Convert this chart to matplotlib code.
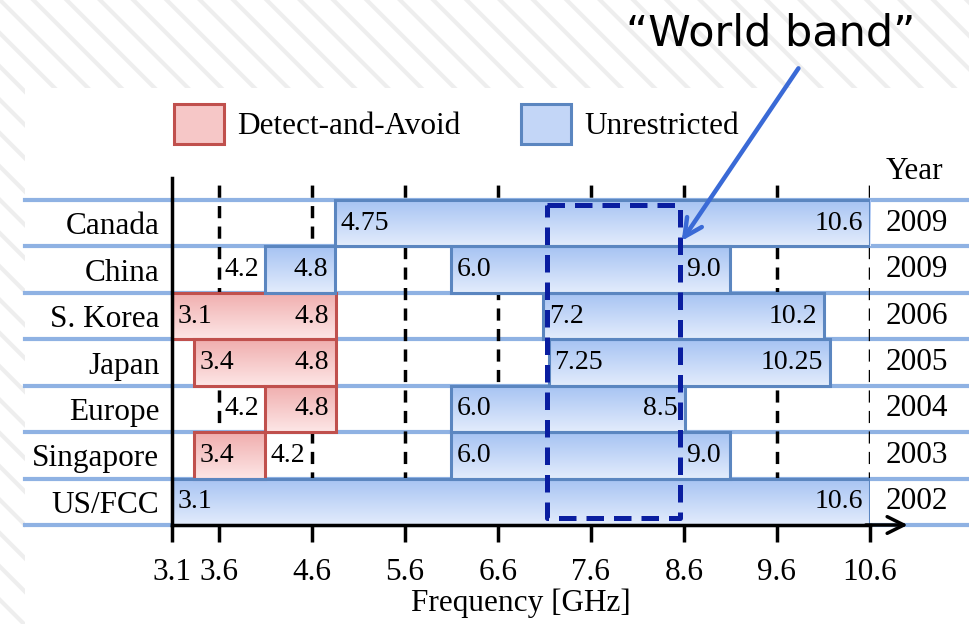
import numpy as np
import matplotlib
matplotlib.use("Agg")
import matplotlib.pyplot as plt
from matplotlib.patches import Rectangle, Patch
from matplotlib.colors import LinearSegmentedColormap
from matplotlib.transforms import blended_transform_factory

# ---------------------------------------------------------------- data
countries = ["Canada", "China", "S. Korea", "Japan", "Europe", "Singapore", "US/FCC"]
years = ["2009", "2009", "2006", "2005", "2004", "2003", "2002"]
ticks = [3.1, 3.6, 4.6, 5.6, 6.6, 7.6, 8.6, 9.6, 10.6]

# bands as drawn: (row, start GHz, end GHz)
daa_bands = [(2, 3.1, 4.86), (3, 3.34, 4.86), (4, 4.10, 4.86), (5, 3.34, 4.10)]
unr_bands = [(0, 4.85, 10.6), (1, 4.10, 4.85), (1, 6.10, 9.10), (2, 7.09, 10.11),
             (3, 7.15, 10.17), (4, 6.10, 8.61), (5, 6.10, 9.10), (6, 3.1, 10.6)]

# edge labels: (row, anchor GHz, text, side)
labels = [(0, 4.85, "4.75", "l"), (0, 10.6, "10.6", "r"),
          (1, 3.6, "4.2", "l"), (1, 4.85, "4.8", "r"), (1, 6.10, "6.0", "l"), (1, 8.56, "9.0", "l"),
          (2, 3.1, "3.1", "l"), (2, 4.86, "4.8", "r"), (2, 7.09, "7.2", "l"), (2, 10.11, "10.2", "r"),
          (3, 3.34, "3.4", "l"), (3, 4.86, "4.8", "r"), (3, 7.15, "7.25", "l"), (3, 10.17, "10.25", "r"),
          (4, 3.6, "4.2", "l"), (4, 4.86, "4.8", "r"), (4, 6.10, "6.0", "l"), (4, 8.61, "8.5", "r"),
          (5, 3.34, "3.4", "l"), (5, 4.10, "4.2", "l"), (5, 6.10, "6.0", "l"), (5, 8.56, "9.0", "l"),
          (6, 3.1, "3.1", "l"), (6, 10.6, "10.6", "r")]

world_band = (7.13, 8.56)

RED_EDGE = "#c0504d"; BLUE_EDGE = "#5b86c0"; SEP = "#8fb2e3"
RED_GRAD = ("#f0aeae", "#fde6e6"); BLUE_GRAD = ("#a6c3f3", "#e3ecfc")
plt.rcParams.update({"font.family": ["Liberation Serif", "DejaVu Serif"], "hatch.linewidth": 3.0,
                     "hatch.color": "#eeeeee"})
FS = 22.5

fig = plt.figure(figsize=(9.7, 6.24), dpi=100)

# hatched slide background + white chart panel
fig.patches.append(Rectangle((0, 0), 1, 1, transform=fig.transFigure, facecolor="white",
                             edgecolor="#eeeeee", hatch="\\", lw=0, zorder=-10))
fig.patches.append(Rectangle((25/970, 0), 1, 1 - 88/624, transform=fig.transFigure,
                             facecolor="white", lw=0, zorder=-9))

ax = fig.add_axes([172/970, 1 - 525/624, 698/970, 347/624])
ax.patch.set_alpha(0)

# dashed frequency grid
for t in ticks[1:]:
    ax.plot([t, t], [6.5, -0.974], color="black", lw=2.5, ls=(0, (3.5, 2.4)), zorder=1)

# row separators running past the axes
trans = blended_transform_factory(ax.transAxes, ax.transData)
for yb in np.arange(-0.5, 7.0, 1.0):
    ax.plot([-147/698, 798/698], [yb, yb], color=SEP, lw=3, transform=trans, clip_on=False, zorder=0)

grad = np.linspace(0, 1, 64).reshape(-1, 1)

def draw_band(row, x0, x1, cols, edge):
    cmap = LinearSegmentedColormap.from_list("g", cols)
    rect = Rectangle((x0, row - 0.5), x1 - x0, 1.0, facecolor="none", edgecolor=edge, lw=2.2, zorder=4)
    ax.add_patch(rect)
    im = ax.imshow(grad, cmap=cmap, aspect="auto", extent=(x0, x1, row + 0.5, row - 0.5), zorder=3)
    im.set_clip_path(rect)

for r, a, b in daa_bands:
    draw_band(r, a, b, RED_GRAD, RED_EDGE)
for r, a, b in unr_bands:
    draw_band(r, a, b, BLUE_GRAD, BLUE_EDGE)
ax.set_xlim(3.1, 10.6)
ax.set_ylim(6.5, -0.974)

for r, x, txt, side in labels:
    dx = 4 if side == "l" else -5
    ax.annotate(txt, (x, r), xytext=(dx, 0), textcoords="offset points", ha="left" if side == "l" else "right",
                va="center", fontsize=20, zorder=6)

# world band box
wb = Rectangle((world_band[0], -0.392), world_band[1] - world_band[0], 6.741, facecolor="none",
               edgecolor="#0a1ea0", lw=3.6, ls=(0, (3.5, 2)), joinstyle="round", zorder=7)
ax.add_patch(wb)

# axes styling
for s in ("top", "right"):
    ax.spines[s].set_visible(False)
for s in ("left", "bottom"):
    ax.spines[s].set_linewidth(2.5)
    ax.spines[s].set_zorder(8)
ax.set_xticks(ticks)
ax.set_xticklabels([f"{t:.1f}" for t in ticks], fontsize=FS)
ax.tick_params(axis="x", length=12, width=2.5, pad=12)
ax.set_yticks(range(len(countries)))
ax.set_yticklabels(countries, fontsize=FS)
ax.tick_params(axis="y", length=0, pad=9)
ax.set_xlabel("Frequency [GHz]", fontsize=FS, labelpad=1)
ax.annotate("", xy=(1.058, 0), xytext=(0.99, 0), xycoords="axes fraction",
            arrowprops=dict(arrowstyle="->", lw=2.5, mutation_scale=30, color="black"), zorder=9)

# year column
ax.text(1.022, -1.12, "Year", transform=trans, fontsize=FS, va="center", ha="left")
for i, y in enumerate(years):
    ax.text(1.022, i, y, transform=trans, fontsize=FS, va="center", ha="left")

# legend
handles = [Patch(facecolor="#f6c7c7", edgecolor=RED_EDGE, lw=2.2, label="Detect-and-Avoid"),
           Patch(facecolor="#c3d6f7", edgecolor=BLUE_EDGE, lw=2.2, label="Unrestricted")]
fig.legend(handles=handles, loc="center left", bbox_to_anchor=(146/970, 1 - 124/624), ncol=2,
           frameon=False, fontsize=FS, handlelength=1.6, handleheight=1.6, columnspacing=1.95,
           handletextpad=0.42)

# "World band" callout
fig.text(771/970, 1 - 33/624, "\u201cWorld band\u201d", fontsize=31, family="DejaVu Sans",
         ha="center", va="center")
ax.annotate("", xy=(8.56, 0.43), xycoords="data", xytext=(800/970, 1 - 66/624), textcoords="figure fraction",
            arrowprops=dict(arrowstyle="->", lw=3.2, mutation_scale=32, color="#3a6ad6"), zorder=10)

fig.savefig("out.png", dpi=100)
